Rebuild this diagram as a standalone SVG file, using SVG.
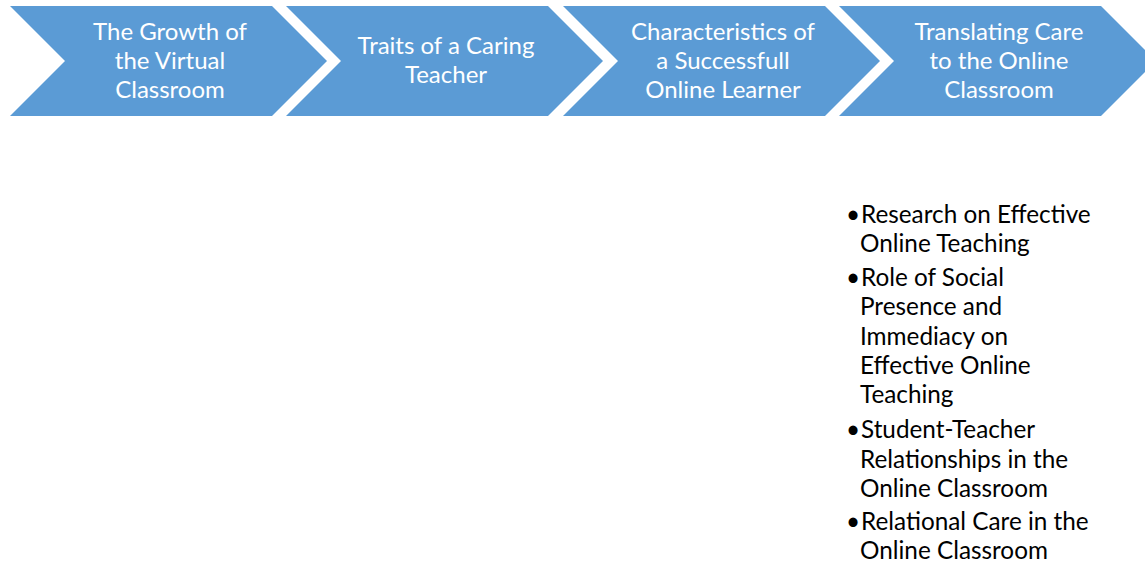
<svg xmlns="http://www.w3.org/2000/svg" width="1145" height="566" viewBox="0 0 1145 566">
  <style>
    .chev { fill: #5B9BD5; }
    .lbl { font-family: Lato, "Open Sans", "Liberation Sans", sans-serif; font-size: 24px; fill: #FFFFFF; text-anchor: middle; }
    .item { font-family: Lato, "Open Sans", "Liberation Sans", sans-serif; font-size: 24.3px; fill: #000000; }
  </style>
  <rect width="1145" height="566" fill="#FFFFFF"/>

  <!-- process chevrons, left to right -->
  <g id="step1">
    <polygon class="chev" points="10,6 272,6 327,61 272,116 10,116 65,61"/>
    <text class="lbl" x="170" y="40">The Growth of</text>
    <text class="lbl" x="170" y="69">the Virtual</text>
    <text class="lbl" x="170" y="98">Classroom</text>
  </g>
  <g id="step2">
    <polygon class="chev" points="286,6 548,6 603,61 548,116 286,116 341,61"/>
    <text class="lbl" x="446" y="54">Traits of a Caring</text>
    <text class="lbl" x="446" y="83">Teacher</text>
  </g>
  <g id="step3">
    <polygon class="chev" points="563,6 825,6 880,61 825,116 563,116 618,61"/>
    <text class="lbl" x="723" y="40">Characteristics of</text>
    <text class="lbl" x="723" y="69">a Successfull</text>
    <text class="lbl" x="723" y="98">Online Learner</text>
  </g>
  <g id="step4">
    <polygon class="chev" points="839,6 1101,6 1156,61 1101,116 839,116 894,61"/>
    <text class="lbl" x="999" y="40">Translating Care</text>
    <text class="lbl" x="999" y="69">to the Online</text>
    <text class="lbl" x="999" y="98">Classroom</text>
  </g>

  <g id="connectors"></g>

  <!-- sub-topics of the last step -->
  <g id="step4-details">
    <text class="item" x="846" y="223">•</text>
    <text class="item" x="861" y="223">Research on Effective</text>
    <text class="item" x="860" y="252">Online Teaching</text>
    <text class="item" x="846" y="286">•</text>
    <text class="item" x="861" y="286">Role of Social</text>
    <text class="item" x="860" y="315">Presence and</text>
    <text class="item" x="860" y="345">Immediacy on</text>
    <text class="item" x="860" y="374">Effective Online</text>
    <text class="item" x="860" y="403">Teaching</text>
    <text class="item" x="846" y="438">•</text>
    <text class="item" x="861" y="438">Student-Teacher</text>
    <text class="item" x="860" y="468">Relationships in the</text>
    <text class="item" x="860" y="497">Online Classroom</text>
    <text class="item" x="846" y="530">•</text>
    <text class="item" x="861" y="530">Relational Care in the</text>
    <text class="item" x="860" y="559">Online Classroom</text>
  </g>
</svg>
